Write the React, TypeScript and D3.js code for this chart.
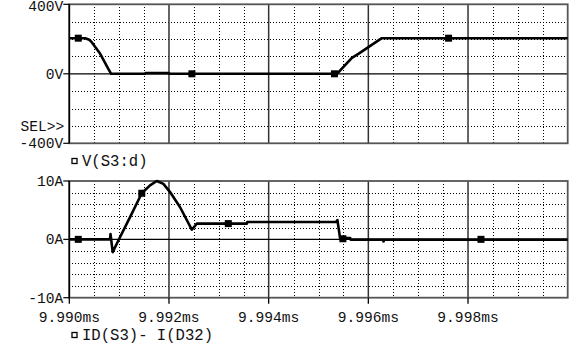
import React from 'react';
import * as d3 from 'd3';

// Time axis (ms)
const timeStart = 9.99;
const timeEnd = 10.0;
const xTicks = [9.99, 9.992, 9.994, 9.996, 9.998];
const xTickLabels = ['9.990ms', '9.992ms', '9.994ms', '9.996ms', '9.998ms'];

// Voltage plot axis
const vTicks = [400, 0, -400];
const vTickLabels = ['400V', '0V', '-400V'];
const vGrid = [300, 200, 100, -100, -200, -300];

// Current plot axis
const iTicks = [10, 0, -10];
const iTickLabels = ['10A', '0A', '-10A'];
const iGrid = [8, 6, 4, 2, -2, -4, -6, -8];

// V(S3:d): time in µs after 9.990ms, volts
const vTime = [0, 0.32, 0.4, 0.45, 0.62, 0.78, 0.82, 0.84, 1.52, 1.53, 2.0, 2.01, 5.33, 5.38, 5.67, 5.8, 6.27, 10];
const vValue = [205, 205, 196, 182, 115, 30, 10, 0, 0, 4, 4, 0, 0, 2, 92, 115, 205, 205];
const vMarkTime = [0.18, 2.46, 5.32, 7.61];
const vMarkValue = [205, 0, 0, 205];

// ID(S3)- I(D32): time in µs after 9.990ms, amps
const iTime = [0, 0.817, 0.827, 0.871, 0.984, 1.219, 1.454, 1.62, 1.755, 1.888, 2.022, 2.223, 2.458, 2.558, 3.562, 3.57, 5.35, 5.38, 5.436, 5.44, 5.637, 5.645, 6.29, 6.305, 6.32, 10];
const iValue = [0, 0, 0.9, -2.2, -0.2, 3.8, 7.9, 9.25, 10.0, 9.5, 8.1, 5.5, 1.65, 2.7, 2.7, 2.97, 2.97, 3.3, 0, 0.22, 0.22, -0.05, -0.05, -0.35, -0.05, -0.05];
const iMarkTime = [0.18, 1.454, 3.19, 5.49, 8.26];
const iMarkValue = [0, 7.9, 2.7, 0.1, 0];

const W = 577;
const H = 347;
const left = 69.3;
const right = 567.7;
const FONT = '"Liberation Mono", "DejaVu Sans Mono", monospace';
const FS = 14.6;

const x = d3.scaleLinear().domain([timeStart, timeEnd]).range([left, right]);
const us = (t: number) => timeStart + t / 1000;
const crisp = (v: number) => Math.round(v) + 0.5;

const minorTimes = d3.range(0, 21).map((k) => timeStart + k * 0.0005);

type PanelProps = {
  top: number;
  bottom: number;
  domain: [number, number];
  grid: number[];
  ticks: number[];
  tickLabels: string[];
  labelNudge?: number[];
  time: number[];
  values: number[];
  markTime: number[];
  markValue: number[];
  extra?: React.ReactNode;
};

function Panel(p: PanelProps) {
  const y = d3.scaleLinear().domain(p.domain).range([p.bottom, p.top]);
  const line = d3
    .line<number>()
    .x((_, i) => x(us(p.time[i])))
    .y((v) => y(v));
  return (
    <g>
      {/* dotted minor grid */}
      <g shapeRendering="crispEdges">
        {minorTimes.map((t, k) =>
          k % 4 === 0 ? null : (
            <line key={'mv' + k} x1={crisp(x(t))} x2={crisp(x(t))} y1={p.top} y2={p.bottom} stroke="#000" strokeWidth={1} strokeDasharray="1,2" />
          )
        )}
        {p.grid.map((g) => (
          <line key={'mh' + g} x1={left} x2={right} y1={crisp(y(g))} y2={crisp(y(g))} stroke="#000" strokeWidth={1} strokeDasharray="1,2" />
        ))}
      </g>
      {/* major grid */}
      {minorTimes.map((t, k) =>
        k % 4 === 0 && k > 0 && k < 20 ? (
          <line key={'Mv' + k} x1={x(t)} x2={x(t)} y1={p.top} y2={p.bottom} stroke="#333" strokeWidth={1.5} />
        ) : null
      )}
      <line x1={left} x2={right} y1={y(0)} y2={y(0)} stroke="#000" strokeWidth={1.2} />
      {/* frame */}
      <rect x={left} y={p.top} width={right - left} height={p.bottom - p.top} fill="none" stroke="#555" strokeWidth={1.8} />
      <line x1={left} x2={left} y1={p.top} y2={p.bottom} stroke="#000" strokeWidth={1.5} />
      {/* y ticks and labels */}
      {p.ticks.map((t, i) => (
        <g key={'yt' + t}>
          <line x1={left - 6} x2={left} y1={y(t)} y2={y(t)} stroke="#000" strokeWidth={1.2} />
          <text x={left - 6} y={y(t) + (p.labelNudge ? p.labelNudge[i] : 0)} dy="0.35em" textAnchor="end" fontFamily={FONT} fontSize={FS} fill="#111">
            {p.tickLabels[i]}
          </text>
        </g>
      ))}
      {p.extra}
      {/* trace */}
      <path d={line(p.values) || ''} fill="none" stroke="#000" strokeWidth={2.6} strokeLinejoin="round" />
      {p.markTime.map((t, i) => (
        <rect key={'mk' + i} x={x(us(t)) - 3.5} y={y(p.markValue[i]) - 3.5} width={7} height={7} fill="#000" />
      ))}
    </g>
  );
}

export default function App() {
  const vTop = 4.3;
  const vBottom = 143.3;
  const iTop = 181;
  const iBottom = 297.7;
  const yV = d3.scaleLinear().domain([-400, 400]).range([vBottom, vTop]);
  return (
    <svg width={W} height={H} style={{ position: 'absolute', left: 0, top: 0, background: '#fff' }}>
      <rect x={0} y={0} width={W} height={H} fill="#fff" />
      <Panel
        top={vTop}
        bottom={vBottom}
        domain={[-400, 400]}
        grid={vGrid}
        ticks={vTicks}
        tickLabels={vTickLabels}
        labelNudge={[1.2, 0, 0]}
        time={vTime}
        values={vValue}
        markTime={vMarkTime}
        markValue={vMarkValue}
        extra={
          <text x={left - 5} y={yV(-300)} dy="0.35em" textAnchor="end" fontFamily={FONT} fontSize={FS} fill="#111">
            SEL&gt;&gt;
          </text>
        }
      />
      <rect x={72} y={158.5} width={5} height={5} fill="none" stroke="#000" strokeWidth={1.3} />
      <text x={82} y={165.5} fontFamily={FONT} fontSize={15.6} fill="#111">
        V(S3:d)
      </text>

      <Panel
        top={iTop}
        bottom={iBottom}
        domain={[-10, 10]}
        grid={iGrid}
        ticks={iTicks}
        tickLabels={iTickLabels}
        time={iTime}
        values={iValue}
        markTime={iMarkTime}
        markValue={iMarkValue}
      />
      {xTicks.map((t, i) => (
        <g key={'xt' + i}>
          <line x1={x(t)} x2={x(t)} y1={iBottom} y2={iBottom + 6} stroke="#000" strokeWidth={1.3} />
          <text x={x(t)} y={321.5} textAnchor="middle" fontFamily={FONT} fontSize={FS} fill="#111">
            {xTickLabels[i]}
          </text>
        </g>
      ))}
      <rect x={72} y={332.5} width={5} height={5} fill="none" stroke="#000" strokeWidth={1.3} />
      <text x={82} y={340} fontFamily={FONT} fontSize={15.6} fill="#111">
        ID(S3)- I(D32)
      </text>
    </svg>
  );
}
